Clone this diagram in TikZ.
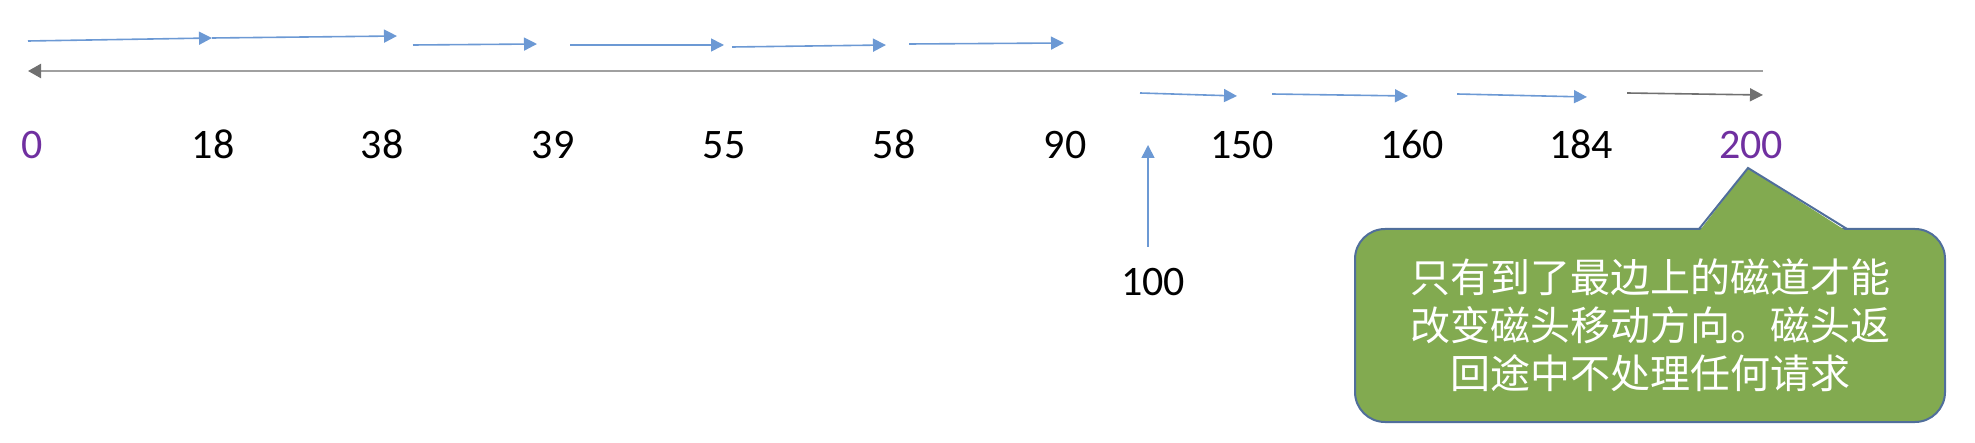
\documentclass[tikz,border=0pt]{standalone}
\usepackage{fontspec}
\setmainfont{Carlito}
\newfontfamily\cjk{Noto Sans CJK SC}
\usetikzlibrary{arrows.meta}
\definecolor{arrowblue}{RGB}{108,153,212}
\definecolor{linegray}{RGB}{160,160,160}
\definecolor{headgray}{RGB}{112,112,112}
\definecolor{labelpurple}{RGB}{112,48,160}
\definecolor{calloutgreen}{RGB}{130,170,80}
\definecolor{calloutborder}{RGB}{80,110,155}
\tikzset{
  num/.style={anchor=base, inner sep=0pt, font=\fontsize{42}{50}\selectfont},
  mv/.style={draw=arrowblue, line width=1.6pt, -{Triangle[length=13pt,width=13pt]}, shorten >=0pt},
  mvgray/.style={draw=headgray, line width=1.6pt, -{Triangle[length=13pt,width=13pt]}},
  back/.style={draw=linegray, line width=2.3pt, -{Triangle[length=13pt,width=14pt,fill=headgray,color=headgray]}},
  callout/.style={draw=calloutborder, fill=calloutgreen, line width=2pt, rounded corners=30pt,
    minimum width=590pt, minimum height=193pt, text=white, align=center, inner sep=0pt,
    font=\cjk\fontsize{40}{48}\selectfont}
}
\begin{document}
\begin{tikzpicture}[x=1pt,y=-1pt]
\useasboundingbox (0,0) rectangle (1975,443);
% labels
\node[num, text=labelpurple] (n0) at (32,159) {0};
\node[num] (n18) at (213,159) {18};
\node[num] (n38) at (382,159) {38};
\node[num] (n39) at (553,159) {39};
\node[num] (n55) at (724,159) {55};
\node[num] (n58) at (894,159) {58};
\node[num] (n90) at (1065,159) {90};
\node[num] (n150) at (1242,159) {150};
\node[num] (n160) at (1412,159) {160};
\node[num] (n184) at (1581,159) {184};
\node[num, text=labelpurple] (n200) at (1751,159) {200};
\node[num] (n100) at (1153,296) {100};
% start marker
\coordinate (s0) at (1148,247);
\coordinate (s1) at (1148,145);
\draw[mv] (s0) -- (s1);
% outward moves (toward 200)
\coordinate (b1s) at (1140,93);  \coordinate (b1e) at (1237,96);
\coordinate (b2s) at (1272,94);  \coordinate (b2e) at (1408,96);
\coordinate (b3s) at (1457,94);  \coordinate (b3e) at (1587,97);
\coordinate (b4s) at (1627,93);  \coordinate (b4e) at (1763,95);
\draw[mv] (b1s) -- (b1e);
\draw[mv] (b2s) -- (b2e);
\draw[mv] (b3s) -- (b3e);
\draw[mvgray] (b4s) -- (b4e);
% return sweep
\coordinate (r1) at (1763,71); \coordinate (r0) at (28,71);
\draw[back] (r1) -- (r0);
% moves from 0 upward
\coordinate (t0) at (28,41);
\coordinate (t1) at (212,38);
\coordinate (t2) at (397,36);
\coordinate (t3s) at (413,45); \coordinate (t3e) at (537,44);
\coordinate (t4s) at (570,45); \coordinate (t4e) at (724,45);
\coordinate (t5s) at (732,47); \coordinate (t5e) at (886,45);
\coordinate (t6s) at (909,44); \coordinate (t6e) at (1064,43);
\draw[mv] (t0) -- (t1);
\draw[mv] (t1) -- (t2);
\draw[mv] (t3s) -- (t3e);
\draw[mv] (t4s) -- (t4e);
\draw[mv] (t5s) -- (t5e);
\draw[mv] (t6s) -- (t6e);
% callout
\node[callout] (note) at (1650,325.5) {只有到了最边上的磁道才能\\改变磁头移动方向。磁头返\\回途中不处理任何请求};
\coordinate (ptip) at (1748,168);
\coordinate (pl) at (1699,229);
\coordinate (pr) at (1847,229);
\fill[calloutgreen] (1699,231.5) -- (ptip) -- (1847,231.5) -- cycle;
\draw[calloutborder, line width=2pt, line join=miter] (pl) -- (ptip) -- (pr);
\end{tikzpicture}
\end{document}
